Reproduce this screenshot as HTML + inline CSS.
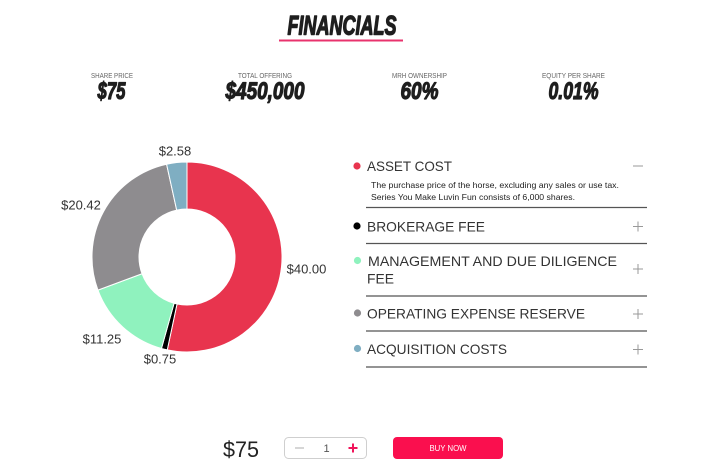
<!DOCTYPE html>
<html>
<head>
<meta charset="utf-8">
<style>
  html,body{margin:0;padding:0;background:#fff;}
  svg{display:block;}
  text{font-family:"Liberation Sans", Arial, sans-serif;}
</style>
</head>
<body>
<svg width="720" height="474" viewBox="0 0 720 474" xmlns="http://www.w3.org/2000/svg">
  <rect x="0" y="0" width="720" height="474" fill="#ffffff"/>

  <!-- Title -->
  <text x="287.5" y="34.5" font-size="27" font-weight="bold" font-style="italic" fill="#1e1e1e" stroke="#1e1e1e" stroke-width="1.4" stroke-linejoin="round" textLength="109" lengthAdjust="spacingAndGlyphs">FINANCIALS</text>
  <rect x="279" y="39.5" width="124" height="2" fill="#e8336d"/>

  <!-- Stats -->
  <g font-size="7" fill="#666">
    <text x="91" y="78" textLength="42" lengthAdjust="spacingAndGlyphs">SHARE PRICE</text>
    <text x="238" y="78" textLength="54" lengthAdjust="spacingAndGlyphs">TOTAL OFFERING</text>
    <text x="392" y="78" textLength="55" lengthAdjust="spacingAndGlyphs">MRH OWNERSHIP</text>
    <text x="542" y="78" textLength="63" lengthAdjust="spacingAndGlyphs">EQUITY PER SHARE</text>
  </g>
  <g font-size="24" font-weight="bold" font-style="italic" fill="#1e1e1e" stroke="#1e1e1e" stroke-width="1.2" stroke-linejoin="round">
    <text x="97.5" y="99" textLength="28" lengthAdjust="spacingAndGlyphs">$75</text>
    <text x="225.5" y="99" textLength="79" lengthAdjust="spacingAndGlyphs">$450,000</text>
    <text x="400.5" y="99" textLength="38" lengthAdjust="spacingAndGlyphs">60%</text>
    <text x="548.5" y="99" textLength="50" lengthAdjust="spacingAndGlyphs">0.01%</text>
  </g>

  <!-- Donut -->
  <g stroke="#ffffff" stroke-width="1">
    <path d="M187,162 A95,95 0 1 1 167.25,349.92 L177.02,303.95 A48,48 0 1 0 187,209 Z" fill="#e8344e"/>
    <path d="M167.25,349.92 A95,95 0 0 1 161.45,348.50 L174.09,303.23 A48,48 0 0 0 177.02,303.95 Z" fill="#000000"/>
    <path d="M161.45,348.50 A95,95 0 0 1 97.96,290.12 L142.01,273.73 A48,48 0 0 0 174.09,303.23 Z" fill="#8ff2be"/>
    <path d="M97.96,290.12 A95,95 0 0 1 166.60,164.21 L176.69,210.12 A48,48 0 0 0 142.01,273.73 Z" fill="#8e8c8f"/>
    <path d="M166.60,164.21 A95,95 0 0 1 187,162 L187,209 A48,48 0 0 0 176.69,210.12 Z" fill="#7faec2"/>
  </g>
  <g font-size="13" fill="#333" text-anchor="middle">
    <text x="175" y="155.5">$2.58</text>
    <text x="81" y="209.5">$20.42</text>
    <text x="306.5" y="273.5">$40.00</text>
    <text x="102" y="343.5">$11.25</text>
    <text x="160" y="363.5">$0.75</text>
  </g>

  <!-- Legend -->
  <circle cx="357" cy="166" r="3.6" fill="#e8344e"/>
  <circle cx="357" cy="226" r="3.6" fill="#000000"/>
  <circle cx="357.5" cy="260.5" r="3.6" fill="#8ff2be"/>
  <circle cx="357.5" cy="313" r="3.6" fill="#8e8c8f"/>
  <circle cx="357.5" cy="348.5" r="3.6" fill="#7faec2"/>

  <g font-size="14" fill="#333">
    <text x="367" y="171" textLength="85" lengthAdjust="spacingAndGlyphs">ASSET COST</text>
    <text x="367" y="231.5" textLength="118" lengthAdjust="spacingAndGlyphs">BROKERAGE FEE</text>
    <text x="368" y="266" textLength="249" lengthAdjust="spacingAndGlyphs">MANAGEMENT AND DUE DILIGENCE</text>
    <text x="367" y="283.5" textLength="27" lengthAdjust="spacingAndGlyphs">FEE</text>
    <text x="367" y="318.5" textLength="218" lengthAdjust="spacingAndGlyphs">OPERATING EXPENSE RESERVE</text>
    <text x="367" y="354" textLength="140" lengthAdjust="spacingAndGlyphs">ACQUISITION COSTS</text>
  </g>
  <g font-size="8.6" fill="#222">
    <text x="371" y="188" textLength="248" lengthAdjust="spacingAndGlyphs">The purchase price of the horse, excluding any sales or use tax.</text>
    <text x="371" y="200" textLength="204" lengthAdjust="spacingAndGlyphs">Series You Make Luvin Fun consists of 6,000 shares.</text>
  </g>

  <g stroke="#555" stroke-width="1.2">
    <line x1="366" y1="207.5" x2="647" y2="207.5"/>
    <line x1="366" y1="243.5" x2="647" y2="243.5"/>
    <line x1="366" y1="296" x2="647" y2="296"/>
    <line x1="366" y1="331" x2="647" y2="331"/>
    <line x1="366" y1="367" x2="647" y2="367"/>
  </g>

  <g stroke="#999" stroke-width="1">
    <line x1="633" y1="166" x2="643" y2="166"/>
    <line x1="633" y1="226.5" x2="643" y2="226.5"/><line x1="638" y1="221.5" x2="638" y2="231.5"/>
    <line x1="633" y1="269" x2="643" y2="269"/><line x1="638" y1="264" x2="638" y2="274"/>
    <line x1="633" y1="314" x2="643" y2="314"/><line x1="638" y1="309" x2="638" y2="319"/>
    <line x1="633" y1="349.5" x2="643" y2="349.5"/><line x1="638" y1="344.5" x2="638" y2="354.5"/>
  </g>

  <!-- Bottom purchase bar -->
  <text x="223" y="457" font-size="22" fill="#222" textLength="36" lengthAdjust="spacingAndGlyphs">$75</text>
  <rect x="284.5" y="437.5" width="82" height="21" rx="4" ry="4" fill="#fff" stroke="#cfcfcf" stroke-width="1"/>
  <line x1="295" y1="448" x2="304" y2="448" stroke="#bbb" stroke-width="1.2"/>
  <text x="326.5" y="452" font-size="11" fill="#555" text-anchor="middle">1</text>
  <line x1="348.5" y1="448" x2="357.5" y2="448" stroke="#f0145a" stroke-width="2"/>
  <line x1="353" y1="443.5" x2="353" y2="452.5" stroke="#f0145a" stroke-width="2"/>
  <rect x="393" y="437" width="110" height="22" rx="4" ry="4" fill="#fa0f4e"/>
  <text x="448" y="451" font-size="8" fill="#ffffff" text-anchor="middle" textLength="37" lengthAdjust="spacingAndGlyphs">BUY NOW</text>
</svg>
</body>
</html>
